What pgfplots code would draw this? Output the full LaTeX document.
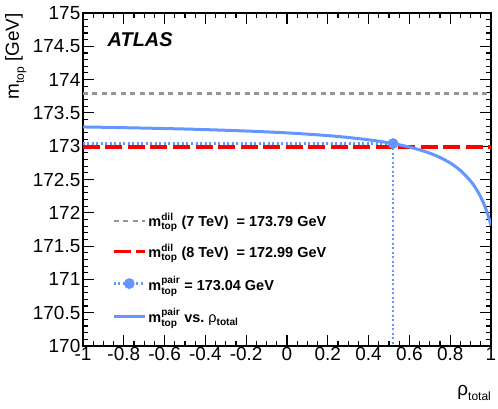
\documentclass[border=0pt]{standalone}
\usepackage{fontspec}
\setmainfont{Liberation Sans}
\usepackage{amsmath}
\usepackage{pgfplots}
\pgfplotsset{compat=1.18}

\definecolor{curveblue}{RGB}{100,150,255}
\definecolor{dilgray}{RGB}{150,150,150}
\definecolor{dilred}{RGB}{255,0,0}

% small lowered subscript in the text font
\newcommand{\lsub}[2]{#1{\fontsize{12}{12}\selectfont\raisebox{-0.42em}{#2}}}

\begin{document}
\begin{tikzpicture}
\begin{axis}[
  at={(0,0)}, anchor=south west,
  scale only axis, width=408bp, height=333bp,
  xmin=-1, xmax=1, ymin=170, ymax=175,
  xtick={-1,-0.8,-0.6,-0.4,-0.2,0,0.2,0.4,0.6,0.8,1},
  ytick={170,170.5,171,171.5,172,172.5,173,173.5,174,174.5,175},
  minor x tick num=3, minor y tick num=4,
  tick pos=both, tick align=inside,
  major tick length=11.5bp, minor tick length=5.5bp,
  tick style={black, line width=1.1bp},
  axis line style={line width=1.2bp},
  /pgf/number format/assume math mode=true,
  xticklabel style={/pgf/number format/fixed, /pgf/number format/precision=1,
    font=\fontsize{19}{20}\selectfont, inner sep=1bp, yshift=0bp},
  yticklabel style={/pgf/number format/fixed, /pgf/number format/precision=1,
    font=\fontsize{19}{20}\selectfont, inner sep=1bp, xshift=-1.5bp},
  xlabel={\lsub{ρ}{total}},
  xlabel style={at={(axis description cs:1,-0.148)}, anchor=base east,
    font=\fontsize{19}{20}\selectfont, inner sep=0pt},
  ylabel={\lsub{m}{top} [GeV]},
  ylabel style={at={(axis description cs:-0.157,1)}, anchor=base east,
    font=\fontsize{19}{20}\selectfont, inner sep=0pt},
  legend cell align=left,
  legend image code/.code={
    \draw[mark repeat=2, mark phase=2, #1]
      plot coordinates {(0bp,0bp) (15.5bp,0bp) (31bp,0bp)};},
  legend style={at={(axis description cs:0.071,0.404)}, anchor=north west,
    draw=none, fill=none, inner sep=0pt, row sep=13bp,
    font=\fontsize{14.5}{16}\selectfont\bfseries,
    /tikz/every even column/.append style={column sep=8bp}},
]

% 7 TeV dilepton result
\addplot[dilgray, line width=2.3bp, dash pattern=on 5bp off 4.5bp]
  coordinates {(-1,173.79) (1,173.79)};
\addlegendentry{$\text{m}^{\text{dil}}_{\text{top}}$ (7 TeV)\ \ = 173.79 GeV}

% 8 TeV dilepton result
\addplot[dilred, line width=3.3bp, dash pattern=on 17bp off 5.5bp]
  coordinates {(-1,172.99) (1,172.99)};
\addlegendentry{$\text{m}^{\text{dil}}_{\text{top}}$ (8 TeV)\ \ = 172.99 GeV}

% combined value at the estimated correlation
\addplot[curveblue, line width=2.3bp, dash pattern=on 2bp off 2.5bp,
  mark=*, mark indices={2}, mark size=4.2bp,
  mark options={solid, fill=curveblue, draw=curveblue}]
  coordinates {(-1,173.04) (0.52,173.04) (0.52,170)};
\addlegendentry{$\text{m}^{\text{pair}}_{\text{top}}$ = 173.04 GeV}

% combination as a function of the total correlation
\addplot[curveblue, line width=3bp, smooth] coordinates {
  (-1,173.289) (-0.9,173.284) (-0.8,173.278) (-0.7,173.272) (-0.6,173.265)
  (-0.5,173.258) (-0.4,173.249) (-0.3,173.239) (-0.2,173.228) (-0.1,173.215)
  (0,173.200) (0.1,173.181) (0.2,173.159) (0.3,173.131) (0.4,173.096)
  (0.45,173.075) (0.5,173.050) (0.55,173.021) (0.6,172.987) (0.65,172.945)
  (0.7,172.895) (0.75,172.831) (0.8,172.748) (0.85,172.636) (0.9,172.477)
  (0.92,172.394) (0.94,172.293) (0.96,172.170) (0.98,172.014) (0.99,171.918)
  (1,171.811)};
\addlegendentry{$\text{m}^{\text{pair}}_{\text{top}}$ vs.\ {\mdseries ρ}$_{\text{total}}$}

\node[anchor=west, font=\fontsize{20}{22}\selectfont\bfseries\itshape]
  at (axis description cs:0.052,0.919) {ATLAS};
\end{axis}
\pgfresetboundingbox
\path[use as bounding box] (-83bp,-63bp) rectangle (415bp,346bp);
\end{tikzpicture}
\end{document}
